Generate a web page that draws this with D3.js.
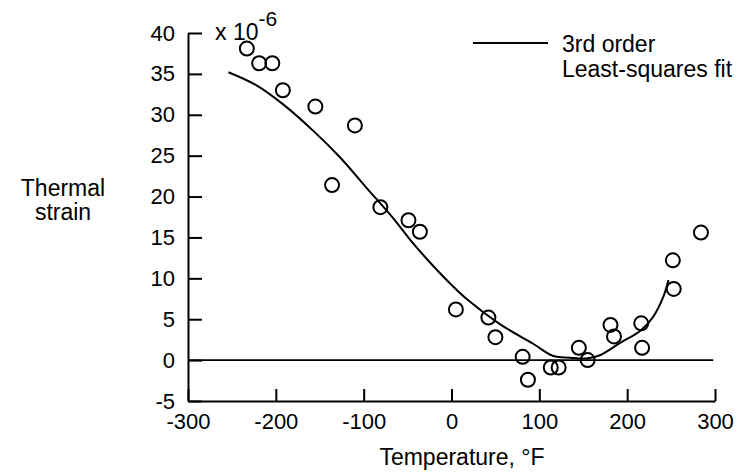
<!DOCTYPE html>
<html>
<head>
<meta charset="utf-8">
<script src="https://cdn.jsdelivr.net/npm/d3@7"></script>
<style>
  body { margin: 0; background: #fff; }
  svg text { font-family: "Liberation Sans", Arial, sans-serif; fill: #000; }
</style>
</head>
<body>
<svg id="chart"></svg>
<script>
(() => {

  // measured points, temperature (°F) and thermal strain (x 10^-6)
  const tempPoints = [-233, -219, -204, -192, -155, -110, -136, -81, -49, -36,
    5, 42, 50, 81, 87, 113, 122, 145, 155, 181, 185, 216, 217, 252, 253, 284];
  const strainPoints = [38.1, 36.3, 36.3, 33.0, 31.0, 28.7, 21.4, 18.7, 17.1, 15.7,
    6.2, 5.2, 2.8, 0.4, -2.4, -0.9, -0.9, 1.5, 0.0, 4.3, 2.9, 4.5, 1.5, 12.2, 8.7, 15.6];

  // 3rd order least-squares fit
  const fitTemp = [-254, -222, -192, -157, -127, -97, -66, -47, -25, 0, 18, 55, 93,
    116, 135, 154, 169, 192, 215, 229, 241, 247];
  const fitStrain = [35.2, 33.6, 31.3, 28.0, 24.8, 21.1, 17.3, 14.7, 12.0, 9.2, 7.4, 4.4, 2.0,
    0.5, 0.3, 0.2, 0.6, 2.1, 3.6, 5.2, 7.7, 9.8];

  const xTicks = [-300, -200, -100, 0, 100, 200, 300];
  const yTicks = [-5, 0, 5, 10, 15, 20, 25, 30, 35, 40];

  const svgWidth = 753;
  const svgHeight = 474;

  const svg = d3.select('#chart')
    .attr('width', svgWidth)
    .attr('height', svgHeight);

  const x = d3.scaleLinear().domain([-300, 300]).range([188, 715]);
  const y = d3.scaleLinear().domain([-5, 40]).range([401, 33]);

  // plain hyphen for negatives, like the original
  const fmt = d => String(d);

  const xAxis = svg.append('g')
    .attr('transform', `translate(0,${y(-5)})`)
    .call(d3.axisBottom(x).tickValues(xTicks).tickFormat(fmt)
      .tickSizeInner(-12).tickSizeOuter(0).tickPadding(12));

  const yAxis = svg.append('g')
    .attr('transform', `translate(${x(-300)},0)`)
    .call(d3.axisLeft(y).tickValues(yTicks).tickFormat(fmt)
      .tickSizeInner(-14).tickSizeOuter(0).tickPadding(13));

  [xAxis, yAxis].forEach(g => {
    g.selectAll('path, line').attr('stroke', '#000').attr('stroke-width', 2);
    g.selectAll('text').attr('font-size', 22).attr('font-family', '"Liberation Sans", Arial, sans-serif');
  });

  // zero line
  svg.append('line')
    .attr('x1', x(-300)).attr('x2', x(298))
    .attr('y1', y(0)).attr('y2', y(0))
    .attr('stroke', '#000').attr('stroke-width', 1.8);

  // fit curve
  const fit = fitTemp.map((t, i) => [t, fitStrain[i]]);
  const line = d3.line()
    .x(d => x(d[0]))
    .y(d => y(d[1]))
    .curve(d3.curveCatmullRom.alpha(0.5));

  svg.append('path')
    .datum(fit)
    .attr('d', line)
    .attr('fill', 'none')
    .attr('stroke', '#000')
    .attr('stroke-width', 2);

  // data points
  const points = tempPoints.map((t, i) => ({ t: t, s: strainPoints[i] }));
  svg.selectAll('circle')
    .data(points)
    .enter()
    .append('circle')
    .attr('cx', d => x(d.t))
    .attr('cy', d => y(d.s))
    .attr('r', 7)
    .attr('fill', 'none')
    .attr('stroke', '#000')
    .attr('stroke-width', 2);

  // multiplier
  const mult = svg.append('text')
    .attr('x', 215)
    .attr('y', 40)
    .attr('font-size', 23);
  mult.append('tspan').text('x 10');
  mult.append('tspan').attr('dy', -14).attr('font-size', 21).text('-6');

  // y label
  svg.append('text')
    .attr('x', 63).attr('y', 196)
    .attr('text-anchor', 'middle')
    .attr('font-size', 23)
    .text('Thermal');
  svg.append('text')
    .attr('x', 63).attr('y', 220)
    .attr('text-anchor', 'middle')
    .attr('font-size', 23)
    .text('strain');

  // x label
  svg.append('text')
    .attr('x', 462).attr('y', 465)
    .attr('text-anchor', 'middle')
    .attr('font-size', 23)
    .text('Temperature, °F');

  // legend
  svg.append('line')
    .attr('x1', 473).attr('x2', 548)
    .attr('y1', 43).attr('y2', 43)
    .attr('stroke', '#000').attr('stroke-width', 2);
  svg.append('text')
    .attr('x', 562).attr('y', 52)
    .attr('font-size', 23)
    .text('3rd order');
  svg.append('text')
    .attr('x', 562).attr('y', 77)
    .attr('font-size', 23)
    .text('Least-squares fit');

})();
</script>
</body>
</html>
